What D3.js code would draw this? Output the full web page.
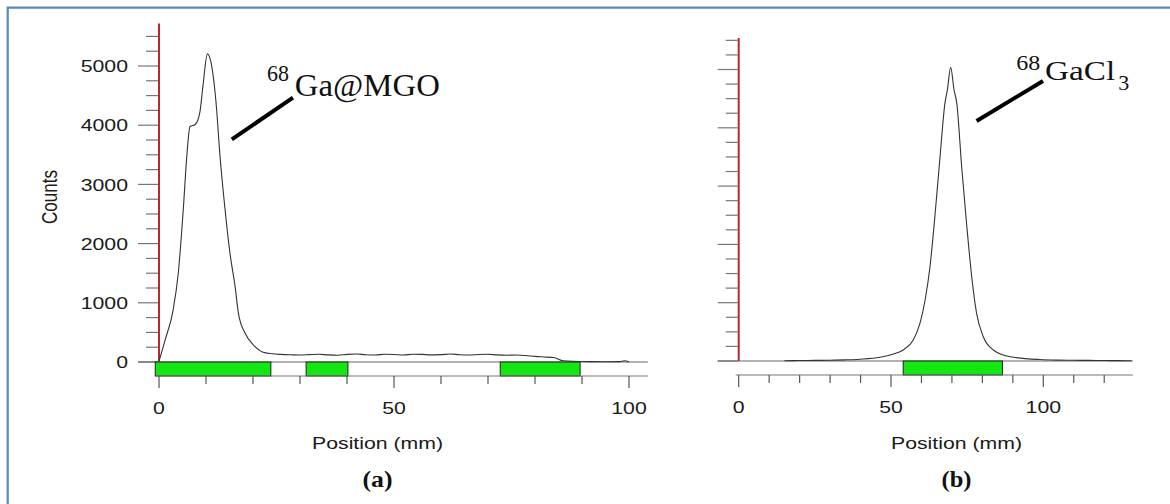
<!DOCTYPE html>
<html>
<head>
<meta charset="utf-8">
<script src="https://cdn.jsdelivr.net/npm/d3@7"></script>
<style>
  body { margin: 0; background: #fff; }
</style>
</head>
<body>
<div id="d3-container"></div>
<script>
/**
 * DATA
 * */
// (a) 68Ga@MGO
const posA = [0, 1.3, 3.0, 4.1, 5.2, 5.9, 6.6, 7.7, 8.7, 9.4, 10.3, 11.2, 12.1, 13.0, 14.0, 15.1,
  16.2, 16.9, 18.3, 20.1, 22.0, 24, 26, 28, 30, 32, 34, 36, 38, 40, 42, 44, 46, 48, 50, 52, 54,
  56, 58, 60, 62, 64, 66, 68, 70, 72, 74, 76, 78, 80, 82, 84, 86, 88, 90, 95, 98, 99, 100];
const countsA = [10, 371, 877, 1500, 2618, 3461, 3978, 4012, 4220, 4698, 5204, 5007, 4417, 3461,
  2618, 1837, 1269, 821, 489, 287, 170, 140, 128, 122, 118, 125, 130, 120, 115, 128, 135, 122,
  118, 130, 126, 118, 132, 128, 120, 125, 135, 122, 118, 126, 130, 120, 115, 118, 110, 95, 85,
  75, 20, 10, 8, 5, 6, 20, 5];

// (b) 68GaCl3
const posB = [15, 20, 25, 30, 35, 39.8, 46.4, 50.8, 54.0, 57.3, 59.5, 61.2, 62.8, 64.4, 66.1,
  67.7, 68.5, 69.6, 70.7, 71.6, 73.2, 74.9, 76.5, 78.1, 80.3, 83.6, 89.1, 98.9, 105, 110, 115,
  120, 125, 129];
const countsB = [5, 8, 10, 14, 20, 30, 63, 120, 189, 360, 647, 1046, 1617, 2475, 3504, 4420,
  4648, 5037, 4648, 4420, 3333, 2304, 1446, 818, 417, 189, 74, 25, 15, 12, 10, 8, 6, 5];

// green regions of interest on the strip (mm)
const stripA = [[-0.8, 23.8], [31.3, 40.2], [72.6, 89.6]];
const stripB = [[54.0, 86.6]];

// ticks
const yMajor = [0, 1000, 2000, 3000, 4000, 5000];
const yTicks = d3.range(0, 5501, 250);
const xLabels = [0, 50, 100];

const width = 1170, height = 504;
const sans = "'Liberation Sans', Arial, sans-serif";
const serif = "'Liberation Serif', 'Times New Roman', serif";
const stretch = 1.25; // the scan is a bit wider than tall

const panels = [
  {
    pos: posA, counts: countsA, strips: stripA,
    x: d3.scaleLinear([0, 100], [159, 629]),
    y: d3.scaleLinear([0, 5000], [362, 66]),
    xMax: 104, xTickMax: 100, yTop: 5720, yLabels: true,
    labelX: 46.5, tag: "(a)",
    leader: [[15.5, 3760], [28.5, 4467]],
    iso: { x: 23.0, y: 4754, size: 23, len: 22 },
    name: { text: "Ga@MGO", x: 28.9, y: 4501, size: 31, len: 145 },
    sub: null
  },
  {
    pos: posB, counts: countsB, strips: stripB,
    x: d3.scaleLinear([0, 100], [738.7, 1043.3]),
    y: d3.scaleLinear([0, 5000], [361, 69.5]),
    xMax: 129.4, xTickMax: 120, yTop: 5540, yLabels: false,
    labelX: 71.5, tag: "(b)",
    leader: [[78.1, 4117], [99.9, 4803]],
    iso: { x: 91.1, y: 4991, size: 22, len: 24 },
    name: { text: "GaCl", x: 100.6, y: 4820, size: 28, len: 70 },
    sub: { text: "3", x: 124.6, y: 4648, size: 21, len: 11 }
  }
];

const svg = d3.select("#d3-container")
  .append("svg")
  .attr("width", width)
  .attr("height", height)
  .style("display", "block");

svg.append("rect").attr("width", width).attr("height", height).attr("fill", "#fff");

// blue frame (cut at right and bottom)
svg.append("path")
  .attr("d", `M7.7,${height} V7.7 H${width}`)
  .attr("fill", "none")
  .attr("stroke", "#5b86c4")
  .attr("stroke-width", 2.2);

panels.forEach(p => {
  const g = svg.append("g");
  const x0 = p.x(0), y0 = p.y(0), stripH = 14;

  // y ticks
  g.selectAll("line.ytick")
    .data(yTicks)
    .join("line")
    .attr("class", "ytick")
    .attr("x1", d => x0 - (d % 1000 === 0 ? 21 : 13))
    .attr("x2", x0 - 1)
    .attr("y1", d => p.y(d))
    .attr("y2", d => p.y(d))
    .attr("stroke", "#777")
    .attr("stroke-width", 1.2);

  if (p.yLabels) {
    g.selectAll("text.ylab")
      .data(yMajor)
      .join("text")
      .attr("class", "ylab")
      .attr("transform", d => `translate(128,${p.y(d)}) scale(${stretch},1)`)
      .attr("dy", "0.36em")
      .attr("text-anchor", "end")
      .attr("font-family", sans)
      .attr("font-size", 17)
      .attr("fill", "#1a1a1a")
      .text(d => d);

    g.append("text")
      .attr("transform", `translate(49,197) scale(${stretch},1) rotate(-90)`)
      .attr("dy", "0.36em")
      .attr("text-anchor", "middle")
      .attr("font-family", sans)
      .attr("font-size", 17)
      .attr("fill", "#1a1a1a")
      .text("Counts");
  }

  // zero line and strip
  g.append("line")
    .attr("x1", x0 - 21).attr("x2", p.x(p.xMax))
    .attr("y1", y0).attr("y2", y0)
    .attr("stroke", "#666").attr("stroke-width", 1.2);

  g.selectAll("rect.roi")
    .data(p.strips)
    .join("rect")
    .attr("class", "roi")
    .attr("x", d => p.x(d[0]))
    .attr("width", d => p.x(d[1]) - p.x(d[0]))
    .attr("y", y0)
    .attr("height", stripH)
    .attr("fill", "#14e614")
    .attr("stroke", "#222")
    .attr("stroke-width", 1);

  g.append("line")
    .attr("x1", x0 - 3).attr("x2", p.x(p.xMax))
    .attr("y1", y0 + stripH).attr("y2", y0 + stripH)
    .attr("stroke", "#777").attr("stroke-width", 1.2);

  // x ticks
  g.selectAll("line.xtick")
    .data(d3.range(0, p.xTickMax + 1, 10))
    .join("line")
    .attr("class", "xtick")
    .attr("x1", d => p.x(d)).attr("x2", d => p.x(d))
    .attr("y1", y0 + stripH)
    .attr("y2", d => y0 + stripH + (d % 50 === 0 ? 12 : 8))
    .attr("stroke", "#555")
    .attr("stroke-width", 1.2);

  g.selectAll("text.xlab")
    .data(xLabels)
    .join("text")
    .attr("class", "xlab")
    .attr("transform", d => `translate(${p.x(d)},${y0 + 51.5}) scale(${stretch},1)`)
    .attr("text-anchor", "middle")
    .attr("font-family", sans)
    .attr("font-size", 17)
    .attr("fill", "#1a1a1a")
    .text(d => d);

  g.append("text")
    .attr("transform", `translate(${p.x(p.labelX)},449) scale(${stretch},1)`)
    .attr("text-anchor", "middle")
    .attr("font-family", sans)
    .attr("font-size", 17)
    .attr("fill", "#1a1a1a")
    .text("Position (mm)");

  g.append("text")
    .attr("x", p.x(p.labelX))
    .attr("y", 487)
    .attr("text-anchor", "middle")
    .attr("font-family", serif)
    .attr("font-weight", "bold")
    .attr("font-size", 23)
    .attr("textLength", 30)
    .attr("lengthAdjust", "spacingAndGlyphs")
    .attr("fill", "#111")
    .text(p.tag);

  // origin marker
  g.append("line")
    .attr("x1", x0).attr("x2", x0)
    .attr("y1", y0).attr("y2", p.y(p.yTop))
    .attr("stroke", "#b52a2a")
    .attr("stroke-width", 2);

  // scan trace
  const line = d3.line()
    .x((d, i) => p.x(p.pos[i]))
    .y(d => p.y(d))
    .curve(d3.curveMonotoneX);

  g.append("path")
    .datum(p.counts)
    .attr("d", line)
    .attr("fill", "none")
    .attr("stroke", "#333")
    .attr("stroke-width", 1.1);

  // annotation
  g.append("line")
    .attr("x1", p.x(p.leader[0][0])).attr("y1", p.y(p.leader[0][1]))
    .attr("x2", p.x(p.leader[1][0])).attr("y2", p.y(p.leader[1][1]))
    .attr("stroke", "#000")
    .attr("stroke-width", 4);

  [p.iso, p.name, p.sub].filter(d => d).forEach(t => {
    g.append("text")
      .attr("x", p.x(t.x))
      .attr("y", p.y(t.y))
      .attr("font-family", serif)
      .attr("font-size", t.size)
      .attr("textLength", t.len)
      .attr("lengthAdjust", "spacingAndGlyphs")
      .attr("fill", "#111")
      .text(t.text || "68");
  });
});
</script>
</body>
</html>
